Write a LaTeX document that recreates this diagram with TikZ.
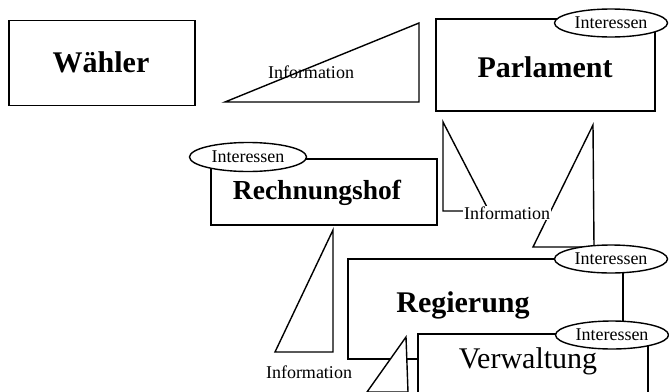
\documentclass[tikz,border=0pt]{standalone}
\usepackage{fontspec}
\setmainfont{Liberation Serif}
\usetikzlibrary{shapes.geometric}

\tikzset{
  box/.style={draw,line width=1.4pt,fill=white,rectangle,inner sep=0pt},
  wish/.style={draw,line width=1.4pt,fill=white,ellipse,inner sep=0pt,minimum width=113pt,minimum height=28pt,font=\fontsize{18}{21}\selectfont},
  flow/.style={draw,line width=1.4pt,fill=white,line join=miter},
  info/.style={inner sep=1pt,font=\fontsize{18}{21}\selectfont},
  big/.style={font=\fontsize{30}{34}\selectfont\bfseries}
}

\begin{document}
\begin{tikzpicture}[x=1pt,y=-1pt]
\useasboundingbox (0,0) rectangle (669,391);
\clip (0,0) rectangle (669,391);
\begin{scope}
    % Waehler and the first information wedge
    \node[box,minimum width=186pt,minimum height=85pt] (W) at (102,63) {};
    \node[big] (w) at (101,62) {Wähler};
    \coordinate (A1) at (225,102);
    \coordinate (B1) at (419,23);
    \coordinate (C1) at (419,102);
    \path[flow] (A1) -- (B1) -- (C1) -- cycle;
    \node[info] (I1) at (311,72) {Information};

    % Parlament
    \node[box,minimum width=219pt,minimum height=92pt] (P) at (545.5,65) {};
    \node[big] (p) at (545,67) {Parlament};
    \node[wish] (PI) at (611,23) {Interessen};

    % Rechnungshof
    \node[box,minimum width=226pt,minimum height=66pt] (R) at (324,192) {};
    \node[big,font=\fontsize{27.5}{32}\selectfont\bfseries] (r) at (317,193) {Rechnungshof};
    \node[wish,minimum width=117pt,minimum height=29pt] (RI) at (248,157) {Interessen};
\end{scope}

\begin{scope}
    % wedges between Parlament, Rechnungshof and Regierung
    \coordinate (A2) at (443,122);
    \coordinate (B2) at (443,211);
    \coordinate (C2) at (489,211);
    \path[flow] (A2) -- (B2) -- (C2) -- cycle;
    \coordinate (A3) at (593,125);
    \coordinate (B3) at (533,247);
    \coordinate (C3) at (594,247);
    \path[flow] (A3) -- (B3) -- (C3) -- cycle;
    \node[info,fill=white] (I2) at (507,213) {Information};

    \coordinate (A4) at (333,230);
    \coordinate (B4) at (275,352);
    \coordinate (C4) at (333,352);
    \path[flow] (A4) -- (B4) -- (C4) -- cycle;
    \node[info] (I4) at (309,372) {Information};

    % Regierung and Verwaltung
    \node[box,minimum width=275pt,minimum height=100pt] (G) at (485.5,309) {};
    \node[big] (g) at (463,305) {Regierung};
    \node[box,minimum width=230pt,minimum height=80pt] (V) at (533,374) {};
    \node[font=\fontsize{30}{34}\selectfont] (v) at (528,361) {Verwaltung};
    \coordinate (A5) at (406,337);
    \coordinate (B5) at (367,392);
    \coordinate (C5) at (408,392);
    \path[flow] (A5) -- (B5) -- (C5) -- cycle;
    \node[wish] (GI) at (611,259) {Interessen};
    \node[wish] (VI) at (612,335) {Interessen};
\end{scope}
\end{tikzpicture}
\end{document}
